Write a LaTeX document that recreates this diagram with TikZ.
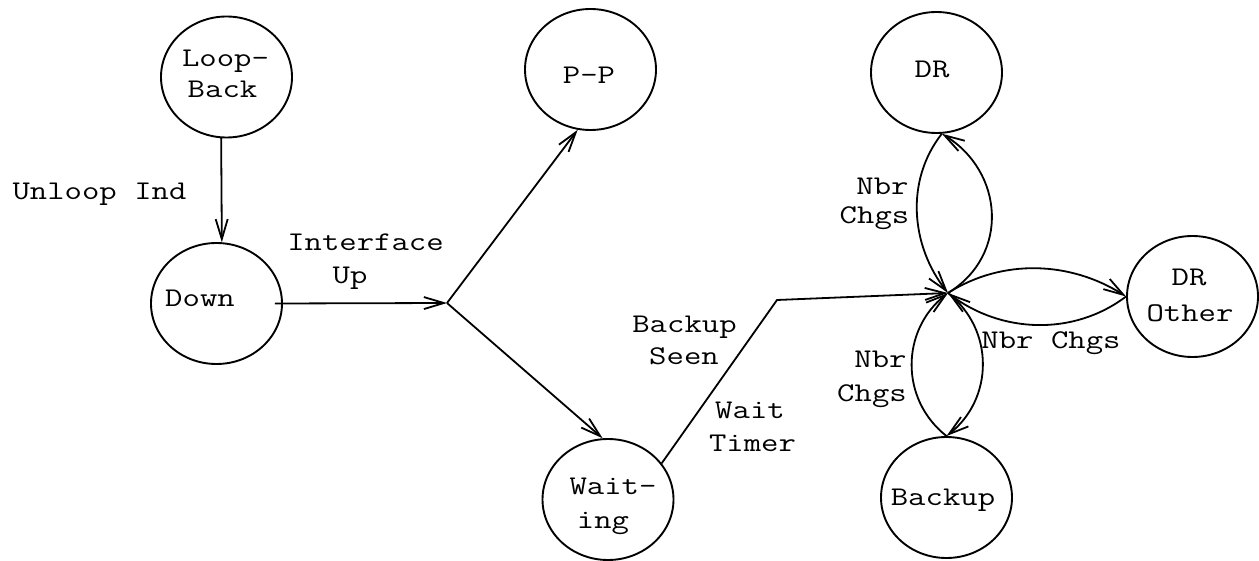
\documentclass[tikz,border=0pt]{standalone}
\usepackage{fontspec}
\setmonofont[FakeStretch=1.25]{Latin Modern Mono}
\usetikzlibrary{arrows.meta,shapes.geometric}
\begin{document}
\begin{tikzpicture}[x=1pt,y=-1pt,
  state/.style={draw, ellipse, minimum width=131pt, minimum height=121pt, inner sep=0pt, line width=1.9pt},
  lbl/.style={font=\ttfamily\fontsize{27}{34}\selectfont, inner sep=0pt, text height=16pt, text depth=0pt},
  conn/.style={line width=1.8pt, -{Straight Barb[length=20pt,width=12pt]}}]
\useasboundingbox (0,0) rectangle (1259,561);

% states
\node[state] (loopback) at (226.5,77) {};
\node[state] (down) at (216.5,303.5) {};
\node[state] (pp) at (590.5,69.5) {};
\node[state] (waiting) at (608,499.5) {};
\node[state] (dr) at (936.5,72.5) {};
\node[state] (backup) at (946.5,497.5) {};
\node[state] (drother) at (1192.5,296.5) {};
\coordinate (hub) at (948,293);
\coordinate (fork) at (447,303);
\coordinate (bend) at (777,300);

% state texts
\node[lbl] (t-loop) at (225.5,59) {Loop-};
\node[lbl] (t-back) at (222.5,90) {Back};
\node[lbl] (t-down) at (200,299) {Down};
\node[lbl] (t-pp) at (589,76) {P-P};
\node[lbl] (t-dr) at (932,70) {DR};
\node[lbl] (t-backup) at (943,497) {Backup};
\node[lbl] (t-dro1) at (1189,277.5) {DR};
\node[lbl] (t-dro2) at (1190,313.5) {Other};
\node[lbl] (t-wait) at (613,486) {Wait-};
\node[lbl] (t-ing) at (603,520) {ing};

% edge labels
\node[lbl] (e-unloop) at (99.5,192) {Unloop Ind};
\node[lbl] (e-if1) at (365.5,243) {Interface};
\node[lbl] (e-if2) at (350,276) {Up};
\node[lbl] (e-bs1) at (684.5,325) {Backup};
\node[lbl] (e-bs2) at (684,357) {Seen};
\node[lbl] (e-wt1) at (750,410) {Wait};
\node[lbl] (e-wt2) at (752.5,443) {Timer};
\node[lbl] (e-n1a) at (882.5,187) {Nbr};
\node[lbl] (e-n1b) at (874.5,216) {Chgs};
\node[lbl] (e-n2a) at (880.5,359) {Nbr};
\node[lbl] (e-n2b) at (872,394) {Chgs};
\node[lbl] (e-n3) at (1051,341) {Nbr Chgs};

% connectors
\draw[conn] (loopback.265) -- (down.85);
\draw[conn] ([xshift=-8pt]down.east) -- (fork);
\draw[conn] (fork) -- (pp.258);
\draw[conn] (fork) -- (waiting.95);
\draw[conn] (waiting.34) -- (bend) -- (hub);
\draw[conn] (hub) .. controls +(62,-38) and +(62,38) .. (dr.275);
\draw[conn] (dr.275) .. controls +(-37,47) and +(-37,-47) .. (hub);
\draw[conn] (hub) .. controls +(47,37) and +(47,-37) .. (backup.north);
\draw[conn] (backup.north) .. controls +(-47,-37) and +(-47,37) .. (hub);
\draw[conn] (hub) .. controls +(55,-35) and +(-55,-35) .. (drother.west);
\draw[conn] (drother.west) .. controls +(-53,40) and +(53,40) .. (hub);
\end{tikzpicture}
\end{document}
